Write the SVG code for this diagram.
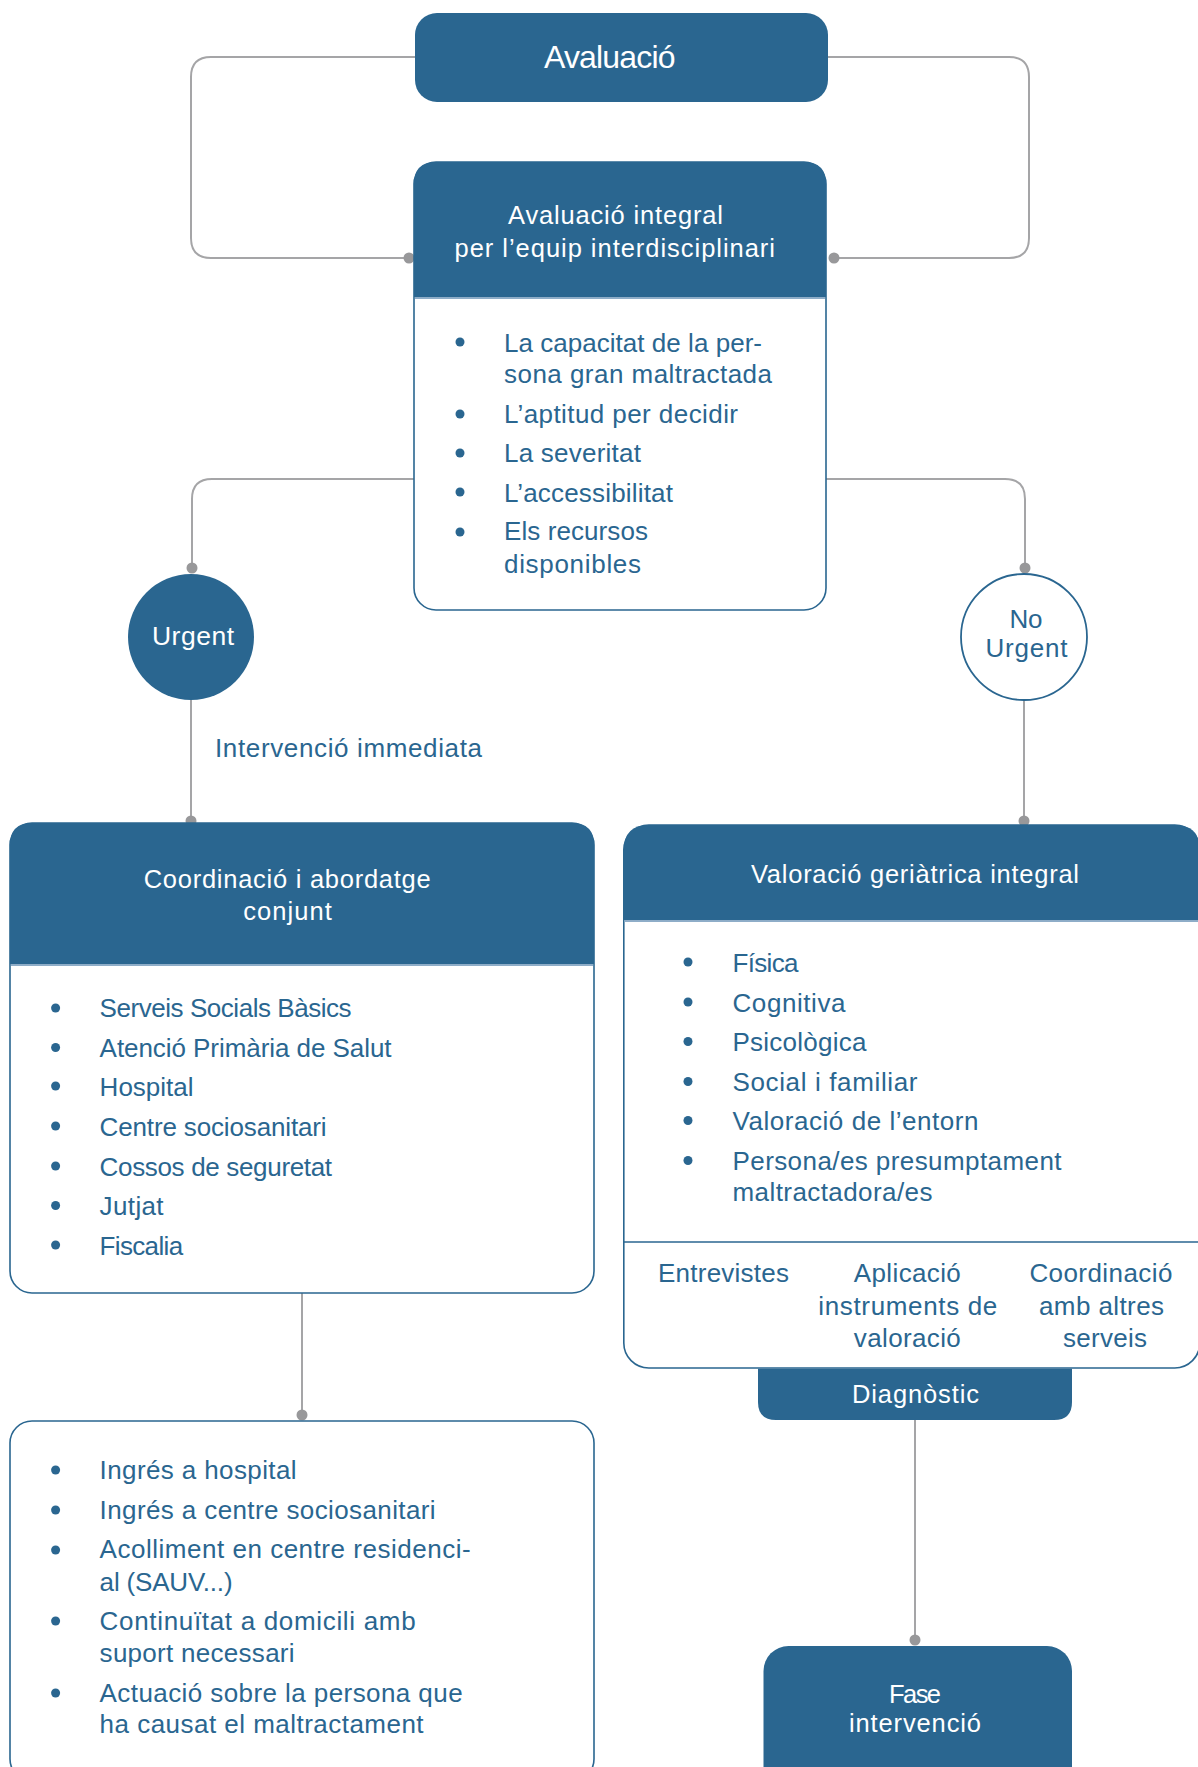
<svg xmlns="http://www.w3.org/2000/svg" width="1198" height="1767" viewBox="0 0 1198 1767">
<style>
.blue{fill:#2a6690}
.box{fill:#fff;stroke:#2a6690;stroke-width:1.6}
.sep{stroke:#8eadc8;stroke-width:2;fill:none}
.div{stroke:#2a6690;stroke-width:1.6;fill:none}
.con{fill:none;stroke:#a5a5a7;stroke-width:2}
.dot{fill:#98989a}
.bul{fill:#2a6690}
text{font-family:"Liberation Sans",Arial,sans-serif}
.w{fill:#fff;font-size:25.5px}
.t{fill:#2a6690;font-size:26px}
</style>

<g id="connectors">
  <path class="con" d="M415,57 H211 Q191,57 191,77 V238 Q191,258 211,258 H409"/>
  <path class="con" d="M828,57 H1009 Q1029,57 1029,77 V238 Q1029,258 1009,258 H834"/>
  <path class="con" d="M414,479 H212 Q192,479 192,499 V568"/>
  <path class="con" d="M826,479 H1005 Q1025,479 1025,499 V568"/>
  <path class="con" d="M191,700 V821"/>
  <path class="con" d="M1024,700 V821"/>
  <path class="con" d="M302,1293 V1415"/>
  <path class="con" d="M915,1420 V1640"/>
  <circle class="dot" cx="409" cy="258" r="5.5"/>
  <circle class="dot" cx="834" cy="258" r="5.5"/>
  <circle class="dot" cx="192" cy="568" r="5.5"/>
  <circle class="dot" cx="1025" cy="568" r="5.5"/>
  <circle class="dot" cx="191" cy="821" r="5.5"/>
  <circle class="dot" cx="1024" cy="821" r="5.5"/>
  <circle class="dot" cx="302" cy="1415" r="5.5"/>
  <circle class="dot" cx="915" cy="1640" r="5.5"/>
</g>

<g id="avaluacio">
  <rect class="blue" x="415" y="13" width="413" height="89" rx="22"/>
  <text x="544" y="68" fill="#fff" font-size="32" textLength="131.5">Avaluació</text>
</g>

<g id="avaluacio-integral">
  <rect class="box" x="414" y="162" width="412" height="448" rx="22"/>
  <path class="blue" d="M414,297 V184 Q414,162 436,162 H804 Q826,162 826,184 V297 Z"/>
  <line class="sep" x1="415" y1="298" x2="825" y2="298"/>
  <text class="w" x="508" y="224" textLength="215">Avaluació integral</text>
  <text class="w" x="454.5" y="257" textLength="320.5">per l’equip interdisciplinari</text>
  <circle class="bul" cx="460" cy="342" r="4.5"/>
  <circle class="bul" cx="460" cy="414" r="4.5"/>
  <circle class="bul" cx="460" cy="453" r="4.5"/>
  <circle class="bul" cx="460" cy="492" r="4.5"/>
  <circle class="bul" cx="460" cy="532" r="4.5"/>
  <text class="t" x="504" y="352" textLength="258">La capacitat de la per-</text>
  <text class="t" x="504" y="383" textLength="268">sona gran maltractada</text>
  <text class="t" x="504" y="423" textLength="234">L’aptitud per decidir</text>
  <text class="t" x="504" y="462" textLength="137">La severitat</text>
  <text class="t" x="504" y="502" textLength="169">L’accessibilitat</text>
  <text class="t" x="504" y="540" textLength="144">Els recursos</text>
  <text class="t" x="504" y="573" textLength="137">disponibles</text>
</g>

<g id="urgent">
  <circle class="blue" cx="191" cy="637" r="63"/>
  <text x="152" y="645" fill="#fff" font-size="26.5" textLength="82">Urgent</text>
</g>

<g id="no-urgent">
  <circle cx="1024" cy="637" r="63" fill="#fff" stroke="#2a6690" stroke-width="1.8"/>
  <text class="t" x="1009.5" y="628" textLength="33">No</text>
  <text class="t" x="985.5" y="657" textLength="82">Urgent</text>
</g>

<g id="intervencio-label">
  <text class="t" x="215" y="757" textLength="267">Intervenció immediata</text>
</g>

<g id="coordinacio">
  <rect class="box" x="10" y="823" width="584" height="470" rx="22"/>
  <path class="blue" d="M10,964 V845 Q10,823 32,823 H572 Q594,823 594,845 V964 Z"/>
  <line class="sep" x1="11" y1="965" x2="593" y2="965"/>
  <text class="w" x="143.7" y="888" textLength="287">Coordinació i abordatge</text>
  <text class="w" x="243.3" y="920" textLength="88.5">conjunt</text>
  <circle class="bul" cx="55.6" cy="1008" r="4.5"/>
  <circle class="bul" cx="55.6" cy="1047.5" r="4.5"/>
  <circle class="bul" cx="55.6" cy="1086" r="4.5"/>
  <circle class="bul" cx="55.6" cy="1126" r="4.5"/>
  <circle class="bul" cx="55.6" cy="1166" r="4.5"/>
  <circle class="bul" cx="55.6" cy="1205.5" r="4.5"/>
  <circle class="bul" cx="55.6" cy="1245" r="4.5"/>
  <text class="t" x="99.6" y="1017" textLength="252">Serveis Socials Bàsics</text>
  <text class="t" x="99.6" y="1057" textLength="292">Atenció Primària de Salut</text>
  <text class="t" x="99.6" y="1096" textLength="94">Hospital</text>
  <text class="t" x="99.6" y="1136" textLength="227">Centre sociosanitari</text>
  <text class="t" x="99.6" y="1176" textLength="232.5">Cossos de seguretat</text>
  <text class="t" x="99.6" y="1215" textLength="64">Jutjat</text>
  <text class="t" x="99.6" y="1255" textLength="83.5">Fiscalia</text>
</g>

<g id="mesures">
  <rect class="box" x="10" y="1421" width="584" height="360" rx="22"/>
  <circle class="bul" cx="55.6" cy="1470" r="4.5"/>
  <circle class="bul" cx="55.6" cy="1510" r="4.5"/>
  <circle class="bul" cx="55.6" cy="1550" r="4.5"/>
  <circle class="bul" cx="55.6" cy="1621" r="4.5"/>
  <circle class="bul" cx="55.6" cy="1693" r="4.5"/>
  <text class="t" x="99.6" y="1479" textLength="197">Ingrés a hospital</text>
  <text class="t" x="99.6" y="1519" textLength="336">Ingrés a centre sociosanitari</text>
  <text class="t" x="99.6" y="1558" textLength="371">Acolliment en centre residenci-</text>
  <text class="t" x="99.6" y="1590.5" textLength="133">al (SAUV...)</text>
  <text class="t" x="99.6" y="1630" textLength="316">Continuïtat a domicili amb</text>
  <text class="t" x="99.6" y="1662" textLength="195">suport necessari</text>
  <text class="t" x="99.6" y="1702" textLength="363">Actuació sobre la persona que</text>
  <text class="t" x="99.6" y="1733" textLength="324">ha causat el maltractament</text>
</g>

<g id="valoracio">
  <rect class="box" x="623.8" y="825" width="576" height="543" rx="25"/>
  <path class="blue" d="M623.8,920 V850 Q623.8,825 648.8,825 H1174.8 Q1199.8,825 1199.8,850 V920 Z"/>
  <line class="sep" x1="624.6" y1="921" x2="1199" y2="921"/>
  <line class="div" x1="624" y1="1242" x2="1199" y2="1242"/>
  <text class="w" x="751" y="883" textLength="328">Valoració geriàtrica integral</text>
  <circle class="bul" cx="688" cy="962" r="4.5"/>
  <circle class="bul" cx="688" cy="1002" r="4.5"/>
  <circle class="bul" cx="688" cy="1041.5" r="4.5"/>
  <circle class="bul" cx="688" cy="1081.5" r="4.5"/>
  <circle class="bul" cx="688" cy="1120.5" r="4.5"/>
  <circle class="bul" cx="688" cy="1160.5" r="4.5"/>
  <text class="t" x="732.5" y="972" textLength="66">Física</text>
  <text class="t" x="732.5" y="1012" textLength="113">Cognitiva</text>
  <text class="t" x="732.5" y="1051" textLength="134">Psicològica</text>
  <text class="t" x="732.5" y="1091" textLength="185">Social i familiar</text>
  <text class="t" x="732.5" y="1130" textLength="246">Valoració de l’entorn</text>
  <text class="t" x="732.5" y="1170" textLength="329">Persona/es presumptament</text>
  <text class="t" x="732.5" y="1201" textLength="200">maltractadora/es</text>
  <text class="t" x="658" y="1282" textLength="131">Entrevistes</text>
  <text class="t" x="853.8" y="1282" textLength="107">Aplicació</text>
  <text class="t" x="818.3" y="1315" textLength="179">instruments de</text>
  <text class="t" x="853.8" y="1347" textLength="107">valoració</text>
  <text class="t" x="1029.4" y="1282" textLength="143">Coordinació</text>
  <text class="t" x="1039" y="1315" textLength="125">amb altres</text>
  <text class="t" x="1063" y="1347" textLength="84">serveis</text>
</g>

<g id="diagnostic">
  <path class="blue" d="M758,1368.8 H1072 V1402 Q1072,1420 1054,1420 H776 Q758,1420 758,1402 Z"/>
  <text class="w" x="852" y="1403" textLength="127">Diagnòstic</text>
</g>

<g id="fase-intervencio">
  <rect class="blue" x="763.5" y="1646" width="308.5" height="150" rx="25"/>
  <text class="w" x="889" y="1703" textLength="52">Fase</text>
  <text class="w" x="849" y="1732" textLength="132">intervenció</text>
</g>
</svg>
